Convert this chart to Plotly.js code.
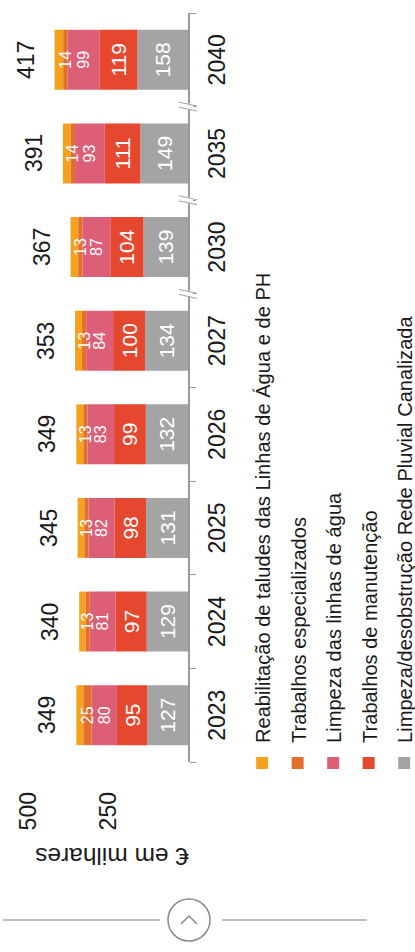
<!DOCTYPE html>
<html>
<head>
<meta charset="utf-8">
<script src="https://cdn.plot.ly/plotly-3.0.1.min.js"></script>
<style>
html,body{margin:0;padding:0;background:#fff;overflow:hidden;width:415px;height:952px;}
#wrap{position:absolute;left:0;top:0;width:952px;height:415px;transform-origin:0 0;transform:translate(0px,952px) rotate(-90deg);}
#chart{width:952px;height:415px;}
</style>
</head>
<body>
<div id="wrap"><div id="chart"></div></div>
<script>
// ---- data (€ em milhares) ----
const years = ['2023','2024','2025','2026','2027','2030','2035','2040'];
const totals = [349, 340, 345, 349, 353, 367, 391, 417];
const limpezaRede = [127, 129, 131, 132, 134, 139, 149, 158];
const manutencao = [95, 97, 98, 99, 100, 104, 111, 119];
const limpezaLinhas = [80, 81, 82, 83, 84, 87, 93, 99];
const especializados = [25, 13, 13, 13, 13, 13, 14, 14];
const reabilitacao = [22, 20, 21, 22, 22, 24, 24, 27];
const seriesNames = [
  'Limpeza/desobstrução Rede Pluvial Canalizada',
  'Trabalhos de manutenção',
  'Limpeza das linhas de água',
  'Trabalhos especializados',
  'Reabilitação de taludes das Linhas de Água e de PH'
];
const yTicks = [250, 500];

// ---- styling ----
const FONT = 'Liberation Sans, Arial, sans-serif';
const colors = ['#a4a4a4', '#e5472f', '#dc5f77', '#e2702c', '#f4a21e'];
const W = 952, H = 415;
const M = {l: 190, r: 13, t: 10, b: 227, autoexpand: false};
const pw = W - M.l - M.r, ph = H - M.t - M.b;
const px2x = p => (p - M.l) / pw;
const px2y = p => (H - M.b - p) / ph;

// stack order bottom -> top
const seriesValues = [limpezaRede, manutencao, limpezaLinhas, especializados, reabilitacao];
const labelSizes = [21, 21, 16, 16, 16];
const showLabels = [true, true, true, true, false];
// cumulative stack bases, derived from the series above
const bases = seriesValues.map((_, i) => years.map((_, j) => {
  let s = 0; for (let k = 0; k < i; k++) s += seriesValues[k][j]; return s;
}));
// draw the top (yellow) segment before the orange one so orange labels stay on top
const drawOrder = [0, 1, 2, 4, 3];

const traces = drawOrder.map(i => ({
  type: 'bar', name: seriesNames[i], legendgroup: 'g' + i, legendrank: 100 - i,
  x: years, y: seriesValues[i], base: bases[i],
  marker: {color: colors[i], line: {width: 0}},
  text: showLabels[i] ? seriesValues[i].map(String) : undefined,
  textposition: showLabels[i] ? 'inside' : 'none',
  insidetextanchor: 'middle', textangle: 0, constraintext: 'none',
  insidetextfont: {family: FONT, size: labelSizes[i], color: '#ffffff'},
  hoverinfo: 'x+y+name'
}));

const annotations = years.map((yr, i) => ({
  x: i, y: totals[i], xref: 'x', yref: 'y',
  text: String(totals[i]), showarrow: false,
  xanchor: 'center', yanchor: 'middle', yshift: 29,
  font: {family: FONT, size: 23, color: '#1a1a1a'}
}));
annotations.push({
  xref: 'paper', yref: 'paper', x: px2x(95), y: px2y(112),
  text: '€ em milhares', showarrow: false, textangle: -90,
  xanchor: 'center', yanchor: 'middle',
  font: {family: FONT, size: 24.5, color: '#1a1a1a'}
});

// axis-break marks between non-consecutive years
const shapes = [];
[4.5, 5.5, 6.5].forEach(b => {
  const ax = (b + 0.5) / years.length;
  shapes.push({type: 'rect', xref: 'paper', yref: 'paper', xsizemode: 'pixel', ysizemode: 'pixel',
    xanchor: ax, yanchor: 0, x0: -3, x1: 3, y0: -5, y1: 5, fillcolor: '#ffffff', line: {width: 0}});
  [-2.5, 2.5].forEach(off => shapes.push({type: 'line', xref: 'paper', yref: 'paper', xsizemode: 'pixel', ysizemode: 'pixel',
    xanchor: ax, yanchor: 0, x0: off - 2, x1: off + 2, y0: -9, y1: 9, line: {color: '#a0a0a0', width: 1}}));
});
// scroll button decoration
const cx = px2x(32), cy = px2y(189);
shapes.push({type: 'circle', xref: 'paper', yref: 'paper', xsizemode: 'pixel', ysizemode: 'pixel',
  xanchor: cx, yanchor: cy, x0: -21, x1: 21, y0: -21, y1: 21, line: {color: '#8a8a8a', width: 1.5}});
shapes.push({type: 'path', xref: 'paper', yref: 'paper', xsizemode: 'pixel', ysizemode: 'pixel',
  xanchor: cx, yanchor: cy, path: 'M -4,8 L 4,0 L -4,-8', line: {color: '#8a8a8a', width: 1.5}});
shapes.push({type: 'line', xref: 'paper', yref: 'paper', x0: cx, x1: cx, y0: px2y(3), y1: px2y(160), line: {color: '#a8a8a8', width: 1.5}});
shapes.push({type: 'line', xref: 'paper', yref: 'paper', x0: cx, x1: cx, y0: px2y(222), y1: px2y(367), line: {color: '#a8a8a8', width: 1.5}});

// target legend placement (unrotated chart pixels)
const LEG_TEXT_START = 209, LEG_FIRST_CENTER = 263, LEG_TEXT_LEN = 470, LEG_PITCH = 35.5;

const layout = {
  width: W, height: H, margin: M,
  paper_bgcolor: '#ffffff', plot_bgcolor: '#ffffff',
  barmode: 'overlay', bargap: 0.36,
  font: {family: FONT, color: '#1a1a1a'},
  showlegend: true,
  legend: {
    xref: 'paper', yref: 'paper',
    x: px2x(165), y: px2y(246), xanchor: 'left', yanchor: 'top',
    traceorder: 'grouped', tracegroupgap: 5.2,
    font: {family: FONT, size: 21, color: '#1a1a1a'},
    bgcolor: 'rgba(0,0,0,0)'
  },
  xaxis: {
    type: 'category', categoryorder: 'array', categoryarray: years,
    range: [-0.5, years.length - 0.5],
    showline: true, linecolor: '#9a9a9a', linewidth: 1.5,
    ticks: 'outside', tickson: 'boundaries', ticklen: 6, tickcolor: '#9a9a9a', tickwidth: 1,
    ticklabelstandoff: 8,
    tickfont: {family: FONT, size: 23, color: '#1a1a1a'},
    showgrid: false, zeroline: false, fixedrange: true
  },
  yaxis: {
    range: [0, ph / 0.32],
    tickvals: yTicks, ticktext: yTicks.map(String),
    showline: false, showgrid: false, zeroline: false, ticks: '',
    ticklabelstandoff: 29,
    tickfont: {family: FONT, size: 23, color: '#1a1a1a'},
    fixedrange: true
  },
  annotations: annotations,
  shapes: shapes
};

function firstLegendText(gd) {
  const nodes = gd.querySelectorAll('.legend .legendtext');
  for (const n of nodes) if (n.textContent.indexOf('Reabilita') === 0) return n;
  return nodes[0];
}
// page is rotated: unrotated x = 952 - screen y, unrotated y = screen x
async function fitLegend(gd) {
  let r = firstLegendText(gd).getBoundingClientRect();
  const size = Math.round(21 * LEG_TEXT_LEN / r.height * 10) / 10;
  const gap = Math.max(0, LEG_PITCH - (size * 1.3 + 3));
  await Plotly.relayout(gd, {'legend.font.size': size, 'legend.tracegroupgap': gap});
  for (let k = 0; k < 2; k++) {
    r = firstLegendText(gd).getBoundingClientRect();
    const start = W - r.bottom;
    const center = (r.left + r.right) / 2;
    await Plotly.relayout(gd, {
      'legend.x': gd.layout.legend.x + (LEG_TEXT_START - start) / pw,
      'legend.y': gd.layout.legend.y + (center - LEG_FIRST_CENTER) / ph
    });
  }
}

Plotly.newPlot('chart', traces, layout, {displayModeBar: false, staticPlot: true}).then(fitLegend);
</script>
</body>
</html>
